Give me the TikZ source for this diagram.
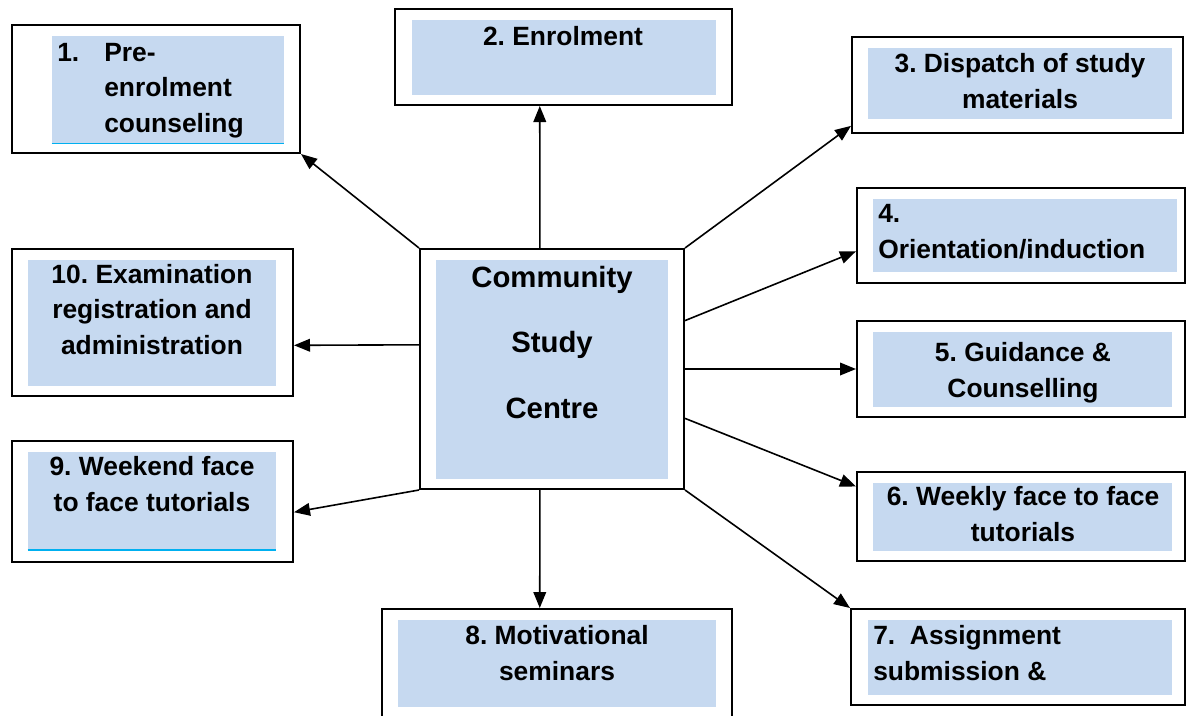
\documentclass[tikz,border=0pt]{standalone}
\usepackage{fontspec}
\setmainfont{Liberation Sans}
\usetikzlibrary{fit,calc,arrows.meta}
\definecolor{boxfill}{RGB}{198,217,240}
\definecolor{cyanline}{RGB}{0,176,240}
\frenchspacing
\begin{document}
\begin{tikzpicture}[x=0.75pt,y=-0.75pt,
  obox/.style={draw=black,line width=1.5pt,inner sep=0pt,fill=white},
  ibox/.style={fill=boxfill,draw=none,inner sep=0pt},
  lbl/.style={font=\fontsize{19.8}{26.5}\selectfont\bfseries,inner sep=0pt},
  arr/.style={line width=1.2pt,-{Triangle[length=12pt,width=9.5pt]}}]
\useasboundingbox (0,0) rectangle (1188,715);
% outer boxes
\node[obox,fit={(12,25) (300,153)}] (b1) {};
\node[obox,fit={(395,9) (732,105)}] (b2) {};
\node[obox,fit={(852,37) (1183,133)}] (b3) {};
\node[obox,fit={(857,188) (1185,283)}] (b4) {};
\node[obox,fit={(857,321) (1185,417)}] (b5) {};
\node[obox,fit={(857,472) (1185,561)}] (b6) {};
\node[obox,fit={(851,609) (1185,705)}] (b7) {};
\node[obox,fit={(382,609) (732,740)}] (b8) {};
\node[obox,fit={(12,441) (293,562)}] (b9) {};
\node[obox,fit={(12,249) (293,396)}] (b10) {};
\node[obox,fit={(420,249) (684,489)}] (c) {};
% inner fills
\node[ibox,fit={(52,36) (284,143)}] (i1) {};
\node[ibox,fit={(412,20) (716,95)}] (i2) {};
\node[ibox,fit={(868,48) (1172,119)}] (i3) {};
\node[ibox,fit={(873,199) (1177,272)}] (i4) {};
\node[ibox,fit={(873,332) (1172,407)}] (i5) {};
\node[ibox,fit={(873,483) (1172,551)}] (i6) {};
\node[ibox,fit={(868,620) (1172,695)}] (i7) {};
\node[ibox,fit={(398,620) (716,707)}] (i8) {};
\node[ibox,fit={(28,452) (276,550)}] (i9) {};
\node[ibox,fit={(28,260) (276,386)}] (i10) {};
\node[ibox,fit={(436,260) (668,479)}] (ic) {};
\draw[cyanline,line width=1pt] (i1.south west) -- (i1.south east);
\draw[cyanline,line width=1.6pt] (i9.south west) -- (i9.south east);
% texts (base anchor = baseline of the last line)
\node[lbl,anchor=base west] (t1a) at (57,61) {1.};
\node[lbl,anchor=base west,align=left] (t1b) at (104,132) {Pre-\\enrolment\\counseling};
\node[lbl,anchor=base] (t2) at (563,45) {2. Enrolment};
\node[lbl,anchor=base,align=center] (t3) at (1020,108) {3. Dispatch of study\\materials};
\node[lbl,anchor=base west,align=left] (t4) at (878,258) {4.\\Orientation/induction};
\node[lbl,anchor=base,align=center] (t5) at (1023,397) {5. Guidance \&\\Counselling};
\node[lbl,anchor=base,align=center] (t6) at (1023,541) {6. Weekly face to face\\tutorials};
\node[lbl,anchor=base west,align=left] (t7) at (873,680) {7.\ \ Assignment\\submission \&};
\node[lbl,anchor=base,align=center] (t8) at (557,680) {8. Motivational\\seminars};
\node[lbl,anchor=base,align=center] (t9) at (152,511) {9. Weekend face\\to face tutorials};
\node[lbl,anchor=base,align=center] (t10) at (152,354) {10. Examination\\registration and\\administration};
\node[lbl,anchor=base,align=center,font=\fontsize{22}{49}\selectfont\bfseries] (tc) at (552,418) {Community\\Study\\Centre};
% arrows
\draw[arr] (c.north west) -- (b1.south east);
\draw[arr] ($(c.north west)!0.4545!(c.north east)$) -- ($(b2.south west)!0.43!(b2.south east)$);
\draw[arr] (c.north east) -- ($(b3.north west)!0.917!(b3.south west)$);
\draw[arr] ($(c.north east)!0.3!(c.south east)$) -- ($(b4.north west)!0.663!(b4.south west)$);
\draw[arr] ($(c.north east)!0.5!(c.south east)$) -- ($(b5.north west)!0.5!(b5.south west)$);
\draw[arr] ($(c.north east)!0.704!(c.south east)$) -- ($(b6.north west)!0.17!(b6.south west)$);
\draw[arr] (c.south east) -- (b7.north west);
\draw[arr] ($(c.south west)!0.4545!(c.south east)$) -- ($(b8.north west)!0.451!(b8.north east)$);
\draw[arr] (c.south west) -- ($(b9.north east)!0.587!(b9.south east)$);
\draw[arr] ($(c.north west)!0.4!(c.south west)$) -- ($(b10.north east)!0.653!(b10.south east)$);
\end{tikzpicture}
\end{document}
